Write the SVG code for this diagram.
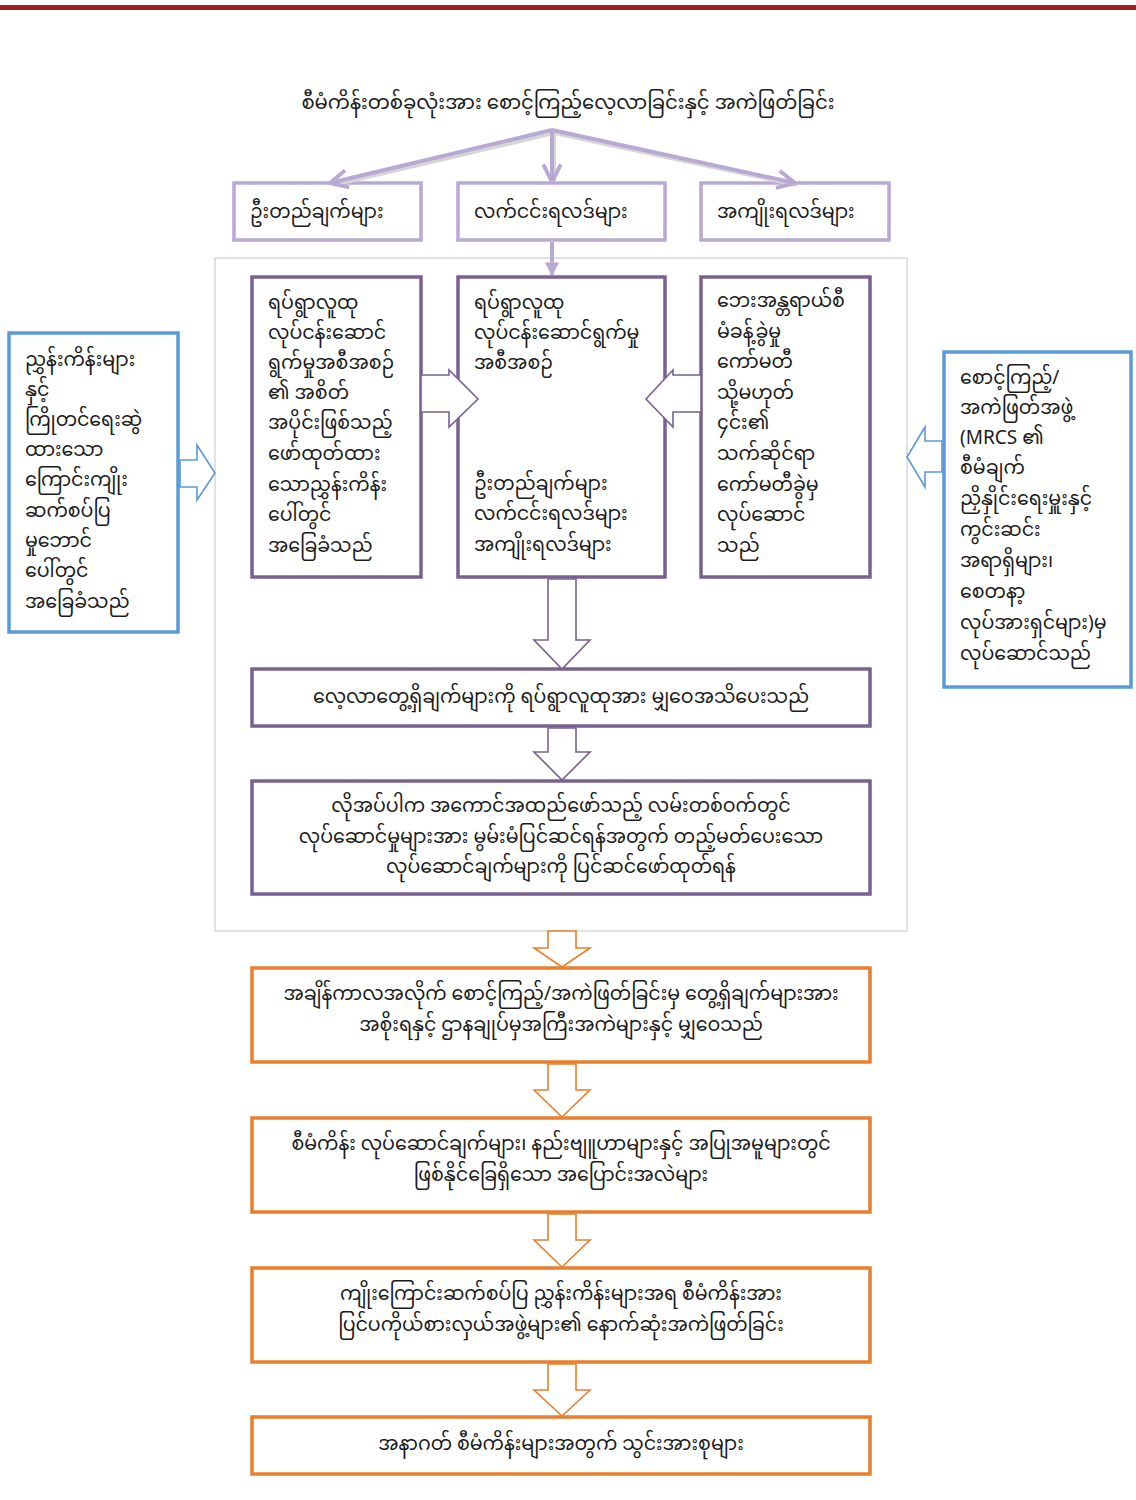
<svg xmlns="http://www.w3.org/2000/svg" width="1136" height="1500" viewBox="0 0 1136 1500">
<defs>
<style>
text{font-family:"Noto Sans Myanmar","Padauk","Myanmar Text","Noto Sans","DejaVu Sans",sans-serif;font-size:19px;fill:#1a1a1a}
.t{font-size:19.6px}
.c{text-anchor:middle}
.lav{fill:#fff;stroke:#B9A8D4;stroke-width:3.5}
.pur{fill:#fff;stroke:#7A6092;stroke-width:3.5}
.blu{fill:#fff;stroke:#5B9BD5;stroke-width:3.5}
.org{fill:#fff;stroke:#E97E2C;stroke-width:3.5}
.pa{fill:#fff;stroke:#7A6092;stroke-width:1.6;stroke-linejoin:miter}
.ba{fill:#fff;stroke:#5B9BD5;stroke-width:1.6}
.oa{fill:#fff;stroke:#E97E2C;stroke-width:1.6}
.ln{fill:none;stroke:#B9A8D4;stroke-width:4}
.sh{fill:none;stroke:#D6D6D6;stroke-width:4}
</style>
<marker id="chev" viewBox="0 0 20 20" refX="18" refY="10" markerWidth="22" markerHeight="22" markerUnits="userSpaceOnUse" orient="auto">
<path d="M2,2 L18,10 L2,18" fill="none" stroke="#B9A8D4" stroke-width="3.5"/>
</marker>
<marker id="tri" viewBox="0 0 10 10" refX="9" refY="5" markerWidth="14" markerHeight="14" markerUnits="userSpaceOnUse" orient="auto">
<path d="M0,0 L10,5 L0,10 z" fill="#B9A8D4"/>
</marker>
</defs>
<rect x="0" y="5" width="1136" height="5" fill="#A51C24"/>
<g id="title"><text class="t c" x="568" y="109">စီမံကိန်းတစ်ခုလုံးအား စောင့်ကြည့်လေ့လာခြင်းနှင့် အကဲဖြတ်ခြင်း</text></g>
<rect id="panel" x="215" y="258" width="692" height="673" fill="#fff" stroke="#D9D9D9" stroke-width="1.5"/>
<g id="n-objectives"><rect class="lav" x="234" y="183" width="187" height="57"/><text x="250" y="218">ဦးတည်ချက်များ</text></g>
<g id="n-outputs"><rect class="lav" x="458" y="183" width="207" height="57"/><text x="474" y="218">လက်ငင်းရလဒ်များ</text></g>
<g id="n-outcomes"><rect class="lav" x="701" y="183" width="188" height="57"/><text x="717" y="218">အကျိုးရလဒ်များ</text></g>
<g id="n-indicators"><rect class="blu" x="9" y="333" width="169" height="299"/>
<text x="25" y="366">ညွှန်းကိန်းများ</text><text x="25" y="396">နှင့်</text><text x="25" y="426">ကြိုတင်ရေးဆွဲ</text><text x="25" y="456">ထားသော</text><text x="25" y="486">ကြောင်းကျိုး</text><text x="25" y="517">ဆက်စပ်ပြ</text><text x="25" y="547">မှုဘောင်</text><text x="25" y="577">ပေါ်တွင်</text><text x="25" y="608">အခြေခံသည်</text></g>
<g id="n-community-ind"><rect class="pur" x="252" y="277" width="169" height="300"/>
<text x="268" y="309">ရပ်ရွာလူထု</text><text x="268" y="339">လုပ်ငန်းဆောင်</text><text x="268" y="369">ရွက်မှုအစီအစဉ်</text><text x="268" y="399">၏ အစိတ်</text><text x="268" y="429">အပိုင်းဖြစ်သည့်</text><text x="268" y="460">ဖော်ထုတ်ထား</text><text x="268" y="491">သောညွှန်းကိန်း</text><text x="268" y="521">ပေါ်တွင်</text><text x="268" y="552">အခြေခံသည်</text></g>
<g id="n-plan"><rect class="pur" x="458" y="277" width="207" height="300"/>
<text x="474" y="309">ရပ်ရွာလူထု</text><text x="474" y="339">လုပ်ငန်းဆောင်ရွက်မှု</text><text x="474" y="369">အစီအစဉ်</text><text x="474" y="490">ဦးတည်ချက်များ</text><text x="474" y="520">လက်ငင်းရလဒ်များ</text><text x="474" y="551">အကျိုးရလဒ်များ</text></g>
<g id="n-committee"><rect class="pur" x="701" y="277" width="169" height="300"/>
<text x="717" y="307">ဘေးအန္တရာယ်စီ</text><text x="717" y="338">မံခန့်ခွဲမှု</text><text x="717" y="368">ကော်မတီ</text><text x="717" y="399">သို့မဟုတ်</text><text x="717" y="429">၄င်း၏</text><text x="717" y="460">သက်ဆိုင်ရာ</text><text x="717" y="491">ကော်မတီခွဲမှ</text><text x="717" y="521">လုပ်ဆောင်</text><text x="717" y="552">သည်</text></g>
<g id="n-me-team"><rect class="blu" x="944" y="352" width="187" height="335"/>
<text x="960" y="384">စောင့်ကြည့်/</text><text x="960" y="414">အကဲဖြတ်အဖွဲ့</text><text x="960" y="444">(MRCS ၏</text><text x="960" y="474">စီမံချက်</text><text x="960" y="505">ညှိနှိုင်းရေးမှူးနှင့်</text><text x="960" y="536">ကွင်းဆင်း</text><text x="960" y="567">အရာရှိများ၊</text><text x="960" y="598">စေတနာ့</text><text x="960" y="629">လုပ်အားရှင်များ)မှ</text><text x="960" y="660">လုပ်ဆောင်သည်</text></g>
<g id="n-share-community"><rect class="pur" x="252" y="669" width="618" height="57"/><text class="c" x="561" y="703">လေ့လာတွေ့ရှိချက်များကို ရပ်ရွာလူထုအား မျှဝေအသိပေးသည်</text></g>
<g id="n-corrective"><rect class="pur" x="252" y="781" width="618" height="113"/>
<text class="c" x="561" y="812">လိုအပ်ပါက အကောင်အထည်ဖော်သည့် လမ်းတစ်ဝက်တွင်</text><text class="c" x="561" y="843">လုပ်ဆောင်မှုများအား မွမ်းမံပြင်ဆင်ရန်အတွက် တည့်မတ်ပေးသော</text><text class="c" x="561" y="873">လုပ်ဆောင်ချက်များကို ပြင်ဆင်ဖော်ထုတ်ရန်</text></g>
<g id="n-share-gov"><rect class="org" x="252" y="968" width="618" height="94"/>
<text class="c" x="561" y="1000">အချိန်ကာလအလိုက် စောင့်ကြည့်/အကဲဖြတ်ခြင်းမှ တွေ့ရှိချက်များအား</text><text class="c" x="561" y="1031">အစိုးရနှင့် ဌာနချုပ်မှအကြီးအကဲများနှင့် မျှဝေသည်</text></g>
<g id="n-changes"><rect class="org" x="252" y="1118" width="618" height="94"/>
<text class="c" x="561" y="1150">စီမံကိန်း လုပ်ဆောင်ချက်များ၊ နည်းဗျူဟာများနှင့် အပြုအမူများတွင်</text><text class="c" x="561" y="1181">ဖြစ်နိုင်ခြေရှိသော အပြောင်းအလဲများ</text></g>
<g id="n-final-eval"><rect class="org" x="252" y="1268" width="618" height="94"/>
<text class="c" x="561" y="1300">ကျိုးကြောင်းဆက်စပ်ပြ ညွှန်းကိန်းများအရ စီမံကိန်းအား</text><text class="c" x="561" y="1331">ပြင်ပကိုယ်စားလှယ်အဖွဲ့များ၏ နောက်ဆုံးအကဲဖြတ်ခြင်း</text></g>
<g id="n-inputs"><rect class="org" x="252" y="1417" width="618" height="57"/><text class="c" x="561" y="1450">အနာဂတ် စီမံကိန်းများအတွက် သွင်းအားစုများ</text></g>
<g id="connectors">
<line class="sh" x1="554" y1="133" x2="333" y2="185"/>
<line class="sh" x1="554" y1="133" x2="797" y2="185"/>
<line class="sh" x1="554" y1="133" x2="554" y2="181"/>
<line class="ln" x1="552" y1="130" x2="330" y2="183" marker-end="url(#chev)"/>
<line class="ln" x1="552" y1="130" x2="795" y2="183" marker-end="url(#chev)"/>
<line class="ln" x1="552" y1="130" x2="552" y2="182" marker-end="url(#chev)"/>
<line class="ln" x1="552" y1="242" x2="552" y2="275" stroke-width="3" marker-end="url(#tri)"/>
<path class="pa" d="M421,375 H449 V370 L478,399 L449,427 V412 H421 Z"/>
<path class="pa" d="M701,375 H673 V370 L646,399 L673,427 V412 H701 Z"/>
<path class="pa" d="M548,579 H576 V640 H590 L562,669 L534,640 H548 Z"/>
<path class="pa" d="M548,728 H576 V752 H590 L562,780 L534,752 H548 Z"/>
<path class="ba" d="M180,460 H197 V445 L215,473 L197,500 V487 H180 Z"/>
<path class="ba" d="M942,441 H925 V427 L907,457 L925,487 V472 H942 Z"/>
<path class="oa" d="M548,931 H576 V948 H590 L562,967 L534,948 H548 Z"/>
<path class="oa" d="M548,1064 H576 V1090 H590 L562,1117 L534,1090 H548 Z"/>
<path class="oa" d="M548,1214 H576 V1240 H590 L562,1267 L534,1240 H548 Z"/>
<path class="oa" d="M548,1364 H576 V1390 H590 L562,1416 L534,1390 H548 Z"/>
</g>
</svg>
